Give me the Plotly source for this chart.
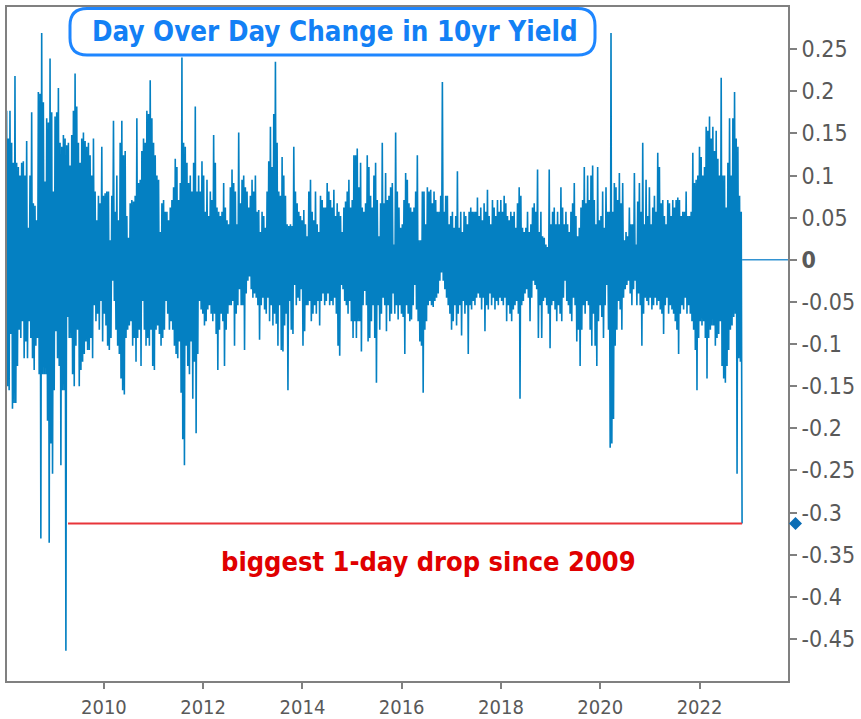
import pandas as pd
import plotly.graph_objects as go

# ---- data: ~12-day period max / min of the day-over-day change in the 10yr yield (pct pts) ----
hi_2008_2012 = [
    .180, .177, .144, .177, .139, .115, .218, .115, .110, .100,
    .115, .117, .100, .141, .038, .100, .175, .067, .064, .047,
    .199, .197, .269, .187, .093, .168, .163, .239, .175, .081,
    .170, .175, .204, .139, .134, .148, .144, .136, .139, .112,
    .148, .177, .221, .182, .139, .115, .144, .151, .141, .134,
    .139, .124, .100, .144, .081, .047, .076, .067, .134, .076,
    .079, .081, .081, .023, .076, .165, .057, .100, .047, .139,
    .165, .124, .129, .052, .026, .067, .071, .069, .076, .168,
    .091, .095, .129, .144, .139, .177, .173, .213, .168, .139,
    .124, .100, .095, .033, .067, .071, .057, .057, .047, .062,
    .071, .086, .120, .110, .071, .091, .240, .139, .134, .115,
    .091, .100, .081, .115, .182, .081, .100, .081, .117, .100,
    .057, .095, .052, .081, .071, .148, .115, .062, .057, .052,
    .057, .091, .062, .047, .042, .086, .107, .091, .081, .042,
    .151, .067, .095, .100, .086, .081, .062, .076, .095, .081,
]
lo_2008_2012 = [
    -.155, -.150, -.155, -.088, -.177, -.170, -.170, -.126, -.083, -.093,
    -.073, -.117, -.097, -.117, -.073, -.093, -.117, -.131, -.102, -.093,
    -.136, -.331, -.136, -.136, -.136, -.191, -.336, -.218, -.254, -.155,
    -.085, -.117, -.126, -.244, -.155, -.155, -.464, -.068, -.093, -.093,
    -.136, -.150, -.102, -.083, -.150, -.131, -.121, -.112, -.097, -.107,
    -.107, -.093, -.117, -.054, -.073, -.064, -.083, -.049, -.097, -.064,
    -.078, -.102, -.107, -.093, -.025, -.049, -.083, -.102, -.112, -.141,
    -.155, -.160, -.093, -.083, -.078, -.073, -.102, -.093, -.121, -.093,
    -.083, -.126, -.049, -.083, -.102, -.093, -.102, -.083, -.126, -.131,
    -.083, -.078, -.088, -.102, -.093, -.083, -.049, -.064, -.083, -.073,
    -.083, -.102, -.112, -.117, -.097, -.158, -.213, -.244, -.102, -.126,
    -.136, -.097, -.165, -.121, -.206, -.112, -.049, -.059, -.064, -.078,
    -.073, -.059, -.054, -.064, -.073, -.064, -.088, -.131, -.083, -.064,
    -.073, -.126, -.083, -.064, -.054, -.054, -.049, -.102, -.064, -.054,
    -.035, -.054, -.054, -.107, -.040, -.025, -.020, -.035, -.045, -.040,
]
hi_2013_2017 = [
    .100, .057, .059, .033, .057, .052, .038, .081, .117, .158,
    .110, .173, .235, .139, .081, .076, .122, .100, .076, .042,
    .040, .042, .040, .134, .081, .067, .057, .052, .047, .059,
    .042, .028, .081, .095, .057, .047, .081, .042, .033, .076,
    .071, .062, .062, .091, .081, .071, .062, .083, .052, .067,
    .057, .052, .033, .062, .069, .081, .095, .062, .071, .124,
    .124, .132, .086, .115, .062, .057, .067, .124, .110, .076,
    .062, .100, .115, .071, .028, .067, .139, .067, .103, .071,
    .076, .086, .091, .018, .151, .081, .062, .038, .042, .071,
    .103, .095, .067, .062, .057, .062, .081, .124, .023, .023,
    .081, .081, .042, .086, .081, .083, .067, .081, .071, .057,
    .057, .076, .211, .057, .076, .076, .042, .052, .057, .038,
    .052, .105, .038, .057, .033, .057, .052, .042, .057, .062,
    .057, .057, .057, .074, .052, .062, .047, .067, .057, .083,
    .052, .042, .071, .062, .052, .071, .057,
]
lo_2013_2017 = [
    -.045, -.054, -.095, -.054, -.045, -.059, -.064, -.045, -.073, -.054,
    -.078, -.064, -.076, -.102, -.054, -.107, -.109, -.078, -.064, -.155,
    -.049, -.083, -.088, -.030, -.054, -.045, -.049, -.035, -.102, -.085,
    -.054, -.054, -.049, -.073, -.064, -.054, -.064, -.049, -.078, -.049,
    -.040, -.054, -.049, -.040, -.054, -.049, -.054, -.045, -.064, -.102,
    -.114, -.030, -.035, -.049, -.054, -.064, -.049, -.073, -.093, -.073,
    -.093, -.073, -.073, -.109, -.054, -.037, -.054, -.097, -.093, -.073,
    -.054, -.093, -.146, -.054, -.083, -.064, -.045, -.054, -.085, -.054,
    -.073, -.064, -.040, -.064, -.054, -.071, -.054, -.064, -.068, -.112,
    -.054, -.064, -.073, -.071, -.054, -.030, -.059, -.073, -.097, -.102,
    -.158, -.083, -.073, -.054, -.049, -.054, -.056, -.049, -.045, -.040,
    -.025, -.015, -.025, -.035, -.045, -.054, -.064, -.083, -.073, -.054,
    -.078, -.064, -.054, -.090, -.049, -.064, -.054, -.112, -.054, -.059,
    -.049, -.054, -.045, -.040, -.045, -.059, -.045, -.085, -.054, -.059,
    -.040, -.054, -.045, -.059, -.049, -.054, -.045,
]
hi_2018_2022 = [
    .071, .057, .076, .067, .052, .047, .057, .052, .057, .038,
    .067, .086, .076, .038, .033, .038, .057, .033, .042, .062,
    .067, .057, .107, .033, .057, .028, .026, .018, .015, .107,
    .042, .057, .062, .042, .057, .042, .086, .062, .042, .057,
    .042, .033, .057, .067, .091, .052, .028, .038, .062, .071,
    .110, .067, .100, .071, .100, .112, .071, .042, .110, .047,
    .052, .081, .038, .086, .057, .057, .269, .057, .091, .086,
    .071, .103, .067, .091, .023, .033, .028, .062, .042, .042,
    .103, .018, .069, .091, .057, .139, .042, .095, .052, .086,
    .042, .062, .076, .057, .127, .110, .067, .071, .052, .042,
    .071, .067, .052, .071, .062, .071, .074, .071, .052, .057,
    .057, .081, .052, .052, .057, .127, .091, .095, .100, .134,
    .122, .100, .110, .158, .153, .170, .144, .158, .129, .153,
    .120, .100, .216, .100, .100, .062, .115, .168, .100, .168,
    .199, .144, .134, .076, .057,
]
lo_2018_2022 = [
    -.049, -.054, -.045, -.073, -.054, -.064, -.073, -.059, -.054, -.049,
    -.064, -.165, -.054, -.049, -.040, -.035, -.045, -.073, -.045, -.025,
    -.030, -.035, -.093, -.054, -.093, -.049, -.045, -.054, -.064, -.105,
    -.054, -.049, -.059, -.073, -.054, -.064, -.073, -.045, -.025, -.049,
    -.054, -.064, -.073, -.045, -.054, -.097, -.083, -.126, -.083, -.054,
    -.064, -.049, -.054, -.083, -.102, -.064, -.102, -.126, -.073, -.054,
    -.068, -.093, -.054, -.030, -.083, -.223, -.218, -.189, -.102, -.083,
    -.049, -.059, -.083, -.045, -.035, -.030, -.025, -.040, -.054, -.035,
    -.025, -.054, -.040, -.054, -.102, -.064, -.045, -.049, -.054, -.045,
    -.059, -.054, -.045, -.054, -.049, -.059, -.064, -.088, -.054, -.045,
    -.064, -.054, -.059, -.064, -.073, -.083, -.112, -.064, -.054, -.059,
    -.045, -.064, -.054, -.064, -.073, -.083, -.107, -.155, -.093, -.073,
    -.078, -.073, -.093, -.141, -.093, -.083, -.078, -.078, -.102, -.093,
    -.088, -.073, -.126, -.141, -.146, -.126, -.107, -.083, -.078, -.068,
    -.064, -.254, -.117, -.121, -.313,
]
first_date = "2008-01-04"
last_date = "2022-11-10"

x_tick_dates = ["2010-01-01", "2012-01-01", "2014-01-01", "2016-01-01",
                "2018-01-01", "2020-01-01", "2022-01-01"]
x_tick_labels = ["2010", "2012", "2014", "2016", "2018", "2020", "2022"]
y_tick_vals = [0.25, 0.2, 0.15, 0.1, 0.05, 0, -0.05, -0.1, -0.15, -0.2,
               -0.25, -0.3, -0.35, -0.4, -0.45]
y_tick_labels = ["0.25", "0.2", "0.15", "0.1", "0.05", "<b>0</b>", "-0.05", "-0.1",
                 "-0.15", "-0.2", "-0.25", "-0.3", "-0.35", "-0.4", "-0.45"]

title_text = "Day Over Day Change in 10yr Yield"
note_text = "biggest 1-day drop since 2009"
note_line_start = "2009-04-12"
x_range = ["2008-01-19", "2023-10-14"]

# ---- build ----
hi = hi_2008_2012 + hi_2013_2017 + hi_2018_2022
lo = lo_2008_2012 + lo_2013_2017 + lo_2018_2022
dates = pd.date_range(first_date, last_date, periods=2 * len(hi))
vals = [v for pair in zip(hi, lo) for v in pair]
last_val = lo[-1]

FONT = "DejaVu Sans Condensed, DejaVu Sans, sans-serif"
W, H = 861, 719
ML, MR, MT, MB = 7, 73, 7, 38
PW, PH = W - ML - MR, H - MT - MB
Y_RANGE = [-0.5, 0.3]


def px(xp):
    return (xp - ML) / PW


def py(yp):
    return (H - MB - yp) / PH


fig = go.Figure()
fig.add_trace(go.Scatter(
    x=dates, y=vals, mode="lines",
    line=dict(color="#0480C2", width=1.6, simplify=False),
    hoverinfo="skip", showlegend=False,
))
fig.add_trace(go.Scatter(
    x=[dates[-1], x_range[1]], y=[0, 0], mode="lines",
    line=dict(color="#3393D2", width=1.6),
    hoverinfo="skip", showlegend=False,
))

# red reference line at the latest value
fig.add_shape(type="line", xref="x", yref="y",
              x0=note_line_start, x1=dates[-1], y0=last_val, y1=last_val,
              line=dict(color="#E8353A", width=2))

# diamond marker for the latest value, sitting on the right axis
dpx = 6.5
cx = px(795.5)
hw = dpx / PW
hh = dpx / PH * (Y_RANGE[1] - Y_RANGE[0])
diamond = (f"M {cx-hw},{last_val} L {cx},{last_val+hh} L {cx+hw},{last_val} "
           f"L {cx},{last_val-hh} Z")
fig.add_shape(type="path", xref="paper", yref="y", path=diamond,
              line=dict(width=0), fillcolor="#0A6DB5", layer="above")

# rounded title box
x0, x1 = px(70), px(595)
y1, y0 = py(8.5), py(55)
rx, ry = 17 / PW, 17 / PH
path = (f"M {x0+rx},{y1} L {x1-rx},{y1} Q {x1},{y1} {x1},{y1-ry} "
        f"L {x1},{y0+ry} Q {x1},{y0} {x1-rx},{y0} L {x0+rx},{y0} "
        f"Q {x0},{y0} {x0},{y0+ry} L {x0},{y1-ry} Q {x0},{y1} {x0+rx},{y1} Z")
fig.add_shape(type="path", xref="paper", yref="paper", path=path,
              line=dict(color="#1E86FF", width=3), fillcolor="white", layer="above")

fig.add_annotation(x=px(335), y=py(31), xref="paper", yref="paper",
                   text=f"<b>{title_text}</b>", showarrow=False,
                   font=dict(family=FONT, size=27.5, color="#1380F5"),
                   xanchor="center", yanchor="middle")
fig.add_annotation(x=px(428.5), y=py(561), xref="paper", yref="paper",
                   text=f"<b>{note_text}</b>", showarrow=False,
                   font=dict(family=FONT, size=27, color="#E00000"),
                   xanchor="center", yanchor="middle")

axis_col = "#808080"
fig.update_layout(
    width=W, height=H,
    margin=dict(l=ML, r=MR, t=MT, b=MB, pad=0, autoexpand=False),
    paper_bgcolor="white", plot_bgcolor="white",
    hovermode=False,
    xaxis=dict(
        type="date", range=x_range, automargin=False,
        tickmode="array", tickvals=x_tick_dates, ticktext=x_tick_labels,
        ticks="outside", ticklen=6, tickwidth=1.5, tickcolor=axis_col,
        ticklabelstandoff=1,
        showline=True, linecolor=axis_col, linewidth=2, mirror=True,
        showgrid=False, zeroline=False,
        tickfont=dict(family=FONT, size=20, color="#595959"),
    ),
    yaxis=dict(
        side="right", range=Y_RANGE, automargin=False,
        tickmode="array", tickvals=y_tick_vals, ticktext=y_tick_labels,
        ticks="outside", ticklen=7, tickwidth=1.5, tickcolor=axis_col,
        showline=True, linecolor=axis_col, linewidth=2, mirror=True,
        showgrid=False, zeroline=False,
        tickfont=dict(family=FONT, size=23, color="#595959"),
    ),
)

fig.write_html("out.html", config={"displayModeBar": False},
               post_script="document.body.style.margin='0px';")
